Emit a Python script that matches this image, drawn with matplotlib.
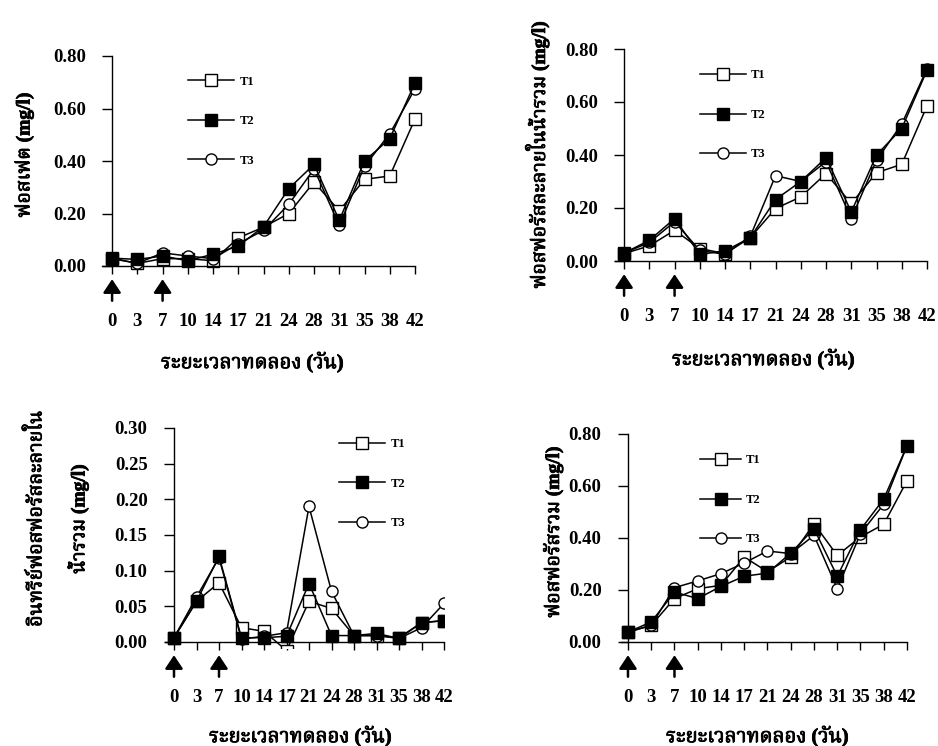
import matplotlib
matplotlib.use("Agg")
import matplotlib.pyplot as plt
import matplotlib.patheffects as pe
from matplotlib import font_manager
from matplotlib.ft2font import FT2Font

# ---------------------------------------------------------------- data
days = ["0", "3", "7", "10", "14", "17", "21", "24", "28", "31", "35", "38", "42"]
treatments = ["T1", "T2", "T3"]
dose_days = ["0", "7"]

phosphate_t1 = [0.028, 0.010, 0.028, 0.028, 0.020, 0.107, 0.148, 0.200, 0.320, 0.210, 0.330, 0.343, 0.560]
phosphate_t2 = [0.030, 0.025, 0.038, 0.020, 0.045, 0.076, 0.150, 0.295, 0.387, 0.174, 0.400, 0.485, 0.697]
phosphate_t3 = [0.030, 0.010, 0.050, 0.038, 0.028, 0.085, 0.136, 0.235, 0.370, 0.155, 0.380, 0.504, 0.675]

dissolved_t1 = [0.028, 0.057, 0.116, 0.047, 0.028, 0.088, 0.198, 0.242, 0.330, 0.217, 0.333, 0.365, 0.585]
dissolved_t2 = [0.030, 0.078, 0.160, 0.025, 0.038, 0.088, 0.232, 0.300, 0.390, 0.185, 0.400, 0.500, 0.720]
dissolved_t3 = [0.030, 0.070, 0.148, 0.040, 0.025, 0.093, 0.322, 0.300, 0.375, 0.160, 0.380, 0.517, 0.725]

organic_t1 = [0.006, 0.057, 0.083, 0.020, 0.015, -0.012, 0.057, 0.047, 0.009, 0.009, 0.006, 0.027, 0.030]
organic_t2 = [0.006, 0.057, 0.120, 0.006, 0.006, 0.008, 0.082, 0.009, 0.009, 0.012, 0.005, 0.027, 0.030]
organic_t3 = [0.006, 0.063, 0.118, 0.004, 0.008, 0.013, 0.190, 0.071, 0.009, 0.009, 0.005, 0.020, 0.054]

total_t1 = [0.038, 0.064, 0.167, 0.205, 0.218, 0.327, 0.270, 0.327, 0.455, 0.333, 0.404, 0.453, 0.620]
total_t2 = [0.038, 0.077, 0.192, 0.167, 0.214, 0.253, 0.265, 0.342, 0.436, 0.253, 0.432, 0.550, 0.755]
total_t3 = [0.038, 0.064, 0.209, 0.235, 0.263, 0.304, 0.350, 0.340, 0.410, 0.205, 0.417, 0.530, 0.755]

ticks_08 = [0.0, 0.2, 0.4, 0.6, 0.8]
ticks_03 = [0.0, 0.05, 0.10, 0.15, 0.20, 0.25, 0.30]

xlabel_text = "ระยะเวลาทดลอง (วัน)"
ylabels = [
    "ฟอสเฟต (mg/l)",
    "ฟอสฟอรัสละลายในน้ำรวม (mg/l)",
    "อินทรีย์ฟอสฟอรัสละลายใน\nน้ำรวม (mg/l)",
    "ฟอสฟอรัสรวม (mg/l)",
]


# ---------------------------------------------------------------- fonts
def families_covering(chars):
    found = []
    for entry in font_manager.fontManager.ttflist:
        if entry.name in found:
            continue
        try:
            cmap = FT2Font(entry.fname).get_charmap()
        except Exception:
            continue
        if all(ord(c) in cmap for c in chars):
            found.append(entry.name)
    found.sort(key=lambda n: (0 if "Serif" in n else 1, 0 if "Thai" in n else 1))
    return found


thai_fams = families_covering("รฟอสเ")
SERIF = "Liberation Serif"
TEXT_FAMILY = [SERIF] + thai_fams + ["DejaVu Sans"]
plt.rcParams["font.family"] = TEXT_FAMILY

# ---------------------------------------------------------------- figure
W, H = 938, 746
fig = plt.figure(figsize=(W / 100, H / 100), dpi=100)
fig.patch.set_facecolor("white")


def px_axes(x0, x1, y_top, y_bot):
    return fig.add_axes([x0 / W, 1 - y_bot / H, (x1 - x0) / W, (y_bot - y_top) / H])


panels = [
    dict(frame=(102, 415, 56, 266), xleft=-0.40, ylim=(0.0, 0.8), yticks=ticks_08,
         series=(phosphate_t1, phosphate_t2, phosphate_t3), legend=(0.275, 0.690),
         ylabel_xy=(24, 155), xlabel_xy=(252, 363), clip=False, hlen=3.7),
    dict(frame=(615, 927, 49, 261), xleft=-0.36, ylim=(0.0, 0.8), yticks=ticks_08,
         series=(dissolved_t1, dissolved_t2, dissolved_t3), legend=(0.272, 0.689),
         ylabel_xy=(537, 155), xlabel_xy=(763, 360), clip=False, hlen=3.7),
    dict(frame=(165, 444, 428, 647.7), xleft=-0.40, ylim=(-0.008, 0.30), yticks=ticks_03,
         series=(organic_t1, organic_t2, organic_t3), legend=(0.624, 0.747),
         ylabel_xy=(57, 519), xlabel_xy=(300, 737), clip=True, hlen=3.7),
    dict(frame=(621, 907, 434, 642), xleft=-0.30, ylim=(0.0, 0.8), yticks=ticks_08,
         series=(total_t1, total_t2, total_t3), legend=(0.276, 0.683),
         ylabel_xy=(553, 532), xlabel_xy=(757, 737), clip=False, hlen=3.3),
]

marker_styles = [
    dict(marker="s", markerfacecolor="white", zorder=2),
    dict(marker="s", markerfacecolor="black", zorder=4),
    dict(marker="o", markerfacecolor="white", zorder=3),
]

tick_font = dict(family=SERIF, weight="bold", size=13.5)
heavy = [pe.withStroke(linewidth=0.6, foreground="black")]
xpos = list(range(len(days)))

for i, p in enumerate(panels):
    ax = px_axes(*p["frame"])
    ax.set_facecolor("none")

    for name, values, style in zip(treatments, p["series"], marker_styles):
        ax.plot(xpos, values, color="black", lw=1.1, markersize=8,
                markeredgecolor="black", markeredgewidth=1.0, label=name,
                clip_on=p["clip"], **style)

    ax.set_xlim(p["xleft"], len(days) - 1)
    ax.set_ylim(*p["ylim"])

    for side in ("top", "right"):
        ax.spines[side].set_visible(False)
    ax.spines["left"].set_position(("data", 0))
    ax.spines["left"].set_bounds(0, p["ylim"][1])
    ax.spines["bottom"].set_position(("data", 0))
    for side in ("left", "bottom"):
        ax.spines[side].set_linewidth(1.0)

    ax.set_xticks(xpos)
    ax.set_xticklabels(days, fontdict=tick_font)
    ax.set_yticks(p["yticks"])
    ax.set_yticklabels([f"{v:.2f}" for v in p["yticks"]], fontdict=tick_font)
    ax.tick_params(axis="x", direction="out", length=6, width=1.0, pad=28)
    ax.tick_params(axis="y", direction="out", length=7, width=1.0, pad=12)

    # dosing days
    for d in dose_days:
        xi = days.index(d)
        ax.annotate("", xy=(xi, 0), xycoords="data",
                    xytext=(0, -25), textcoords="offset points",
                    arrowprops=dict(arrowstyle="-|>,head_length=0.45,head_width=0.3",
                                    mutation_scale=18, lw=1.8, color="black",
                                    shrinkA=0, shrinkB=9.5),
                    annotation_clip=False)

    handles, labels = ax.get_legend_handles_labels()
    ax.legend(handles, labels, loc="center left", bbox_to_anchor=p["legend"],
              frameon=False, borderaxespad=0, borderpad=0, handlelength=p["hlen"],
              handletextpad=0.4, labelspacing=2.2,
              prop=dict(family=SERIF, weight="bold", size=9))

    fig.text(p["ylabel_xy"][0] / W, 1 - p["ylabel_xy"][1] / H, ylabels[i],
             rotation=90, ha="center", va="center", multialignment="center",
             fontsize=14, fontweight="bold", family=TEXT_FAMILY, linespacing=2.3,
             path_effects=heavy)
    fig.text(p["xlabel_xy"][0] / W, 1 - p["xlabel_xy"][1] / H, xlabel_text,
             ha="center", va="center", fontsize=14.5, fontweight="bold",
             family=TEXT_FAMILY, path_effects=heavy)

fig.savefig("out.png", dpi=100, facecolor="white")
